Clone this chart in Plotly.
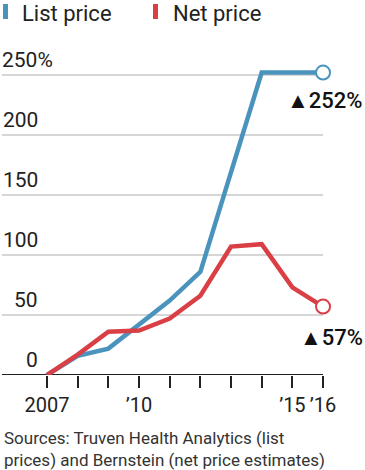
import plotly.graph_objects as go

years = [2007, 2008, 2009, 2010, 2011, 2012, 2013, 2014, 2015, 2016]
list_price = [0, 16, 22, 42, 62, 86, 168, 252, 252, 252]
net_price = [0, 17, 36, 37, 47, 66, 107, 109, 73, 57]
y_ticks = [0, 50, 100, 150, 200, 250]
x_tick_text = {2007: "2007", 2010: "\u201910", 2015: "\u201915", 2016: "\u201916"}
series_names = ["List price", "Net price"]
end_labels = ["\u25B2252%", "\u25B257%"]

BLUE = "#4a93bd"
RED = "#d93f45"
FONT = "Roboto"
W, H = 365, 470
T, B = 51, 95
PH = H - T - B

def px_x(p):
    return p / W

def px_y(p):
    return (H - B - p) / PH

fig = go.Figure()

for vals, color, name in [(list_price, BLUE, series_names[0]), (net_price, RED, series_names[1])]:
    fig.add_trace(go.Scatter(x=years, y=vals, mode="lines", line=dict(color=color, width=4.5),
                             name=name, cliponaxis=False, showlegend=False))
    fig.add_trace(go.Scatter(x=[years[-1]], y=[vals[-1]], mode="markers", cliponaxis=False,
                             marker=dict(size=14, color="white", line=dict(color=color, width=2)),
                             showlegend=False))

x0 = 2007 - 47 / 30.67
x1 = x0 + W / 30.67
xg0 = x0 + 2 / 30.67

shapes = []
for v in y_ticks[1:]:
    shapes.append(dict(type="line", xref="x", yref="y", x0=xg0, x1=2016, y0=v, y1=v,
                       line=dict(color="#c8c8c8", width=1.5), layer="below"))
shapes.append(dict(type="line", xref="x", yref="y", x0=xg0, x1=2016, y0=0, y1=0,
                   line=dict(color="#222", width=2), layer="below"))
# legend swatches
shapes.append(dict(type="rect", xref="paper", yref="paper", x0=px_x(3), x1=px_x(8),
                   y0=px_y(19), y1=px_y(4), fillcolor=BLUE, line=dict(width=0)))
shapes.append(dict(type="rect", xref="paper", yref="paper", x0=px_x(153), x1=px_x(158),
                   y0=px_y(19), y1=px_y(4), fillcolor=RED, line=dict(width=0)))

ann = []
for v in y_ticks[:-1]:
    ann.append(dict(xref="paper", yref="y", x=px_x(40), y=v, xanchor="right", yanchor="bottom",
                    text=str(v), showarrow=False, yshift=1,
                    font=dict(family=FONT, size=21, color="#222")))
ann.append(dict(xref="paper", yref="y", x=px_x(0), y=y_ticks[-1], xanchor="left", yanchor="bottom",
                text=str(y_ticks[-1]) + "%", showarrow=False, yshift=1,
                font=dict(family=FONT, size=21, color="#222")))
ann.append(dict(xref="paper", yref="paper", x=px_x(20), y=px_y(-1), xanchor="left", yanchor="top",
                text=series_names[0], showarrow=False, font=dict(family=FONT, size=22, color="#222")))
ann.append(dict(xref="paper", yref="paper", x=px_x(171), y=px_y(-1), xanchor="left", yanchor="top",
                text=series_names[1], showarrow=False, font=dict(family=FONT, size=22, color="#222")))
ann.append(dict(xref="paper", yref="paper", x=1.0, y=px_y(100), xanchor="right", yanchor="middle",
                text=end_labels[0], showarrow=False,
                font=dict(family=FONT, size=22, color="#111", weight=500)))
ann.append(dict(xref="paper", yref="paper", x=1.0, y=px_y(337), xanchor="right", yanchor="middle",
                text=end_labels[1], showarrow=False,
                font=dict(family=FONT, size=22, color="#111", weight=500)))
ann.append(dict(xref="paper", yref="paper", x=px_x(2), y=px_y(426), xanchor="left", yanchor="top",
                align="left", showarrow=False,
                text="Sources: Truven Health Analytics (list<br>prices) and Bernstein (net price estimates)",
                font=dict(family=FONT, size=17, color="#333")))

fig.update_layout(
    width=W, height=H, margin=dict(l=0, r=0, t=T, b=B),
    paper_bgcolor="white", plot_bgcolor="white",
    shapes=shapes, annotations=ann, showlegend=False,
    xaxis=dict(range=[x0, x1], showgrid=False, zeroline=False, showline=False,
               tickvals=years, ticktext=[x_tick_text.get(y, "") for y in years],
               ticks="outside", ticklen=12, tickwidth=2, tickcolor="#222",
               tickfont=dict(family=FONT, size=20, color="#222")),
    yaxis=dict(range=[0, PH / 1.2], showgrid=False, zeroline=False, showline=False,
               showticklabels=False, fixedrange=True),
)

fig.write_html("out.html", config={"displayModeBar": False, "staticPlot": True},
               post_script="document.body.style.margin='0';document.body.style.padding='0';")
